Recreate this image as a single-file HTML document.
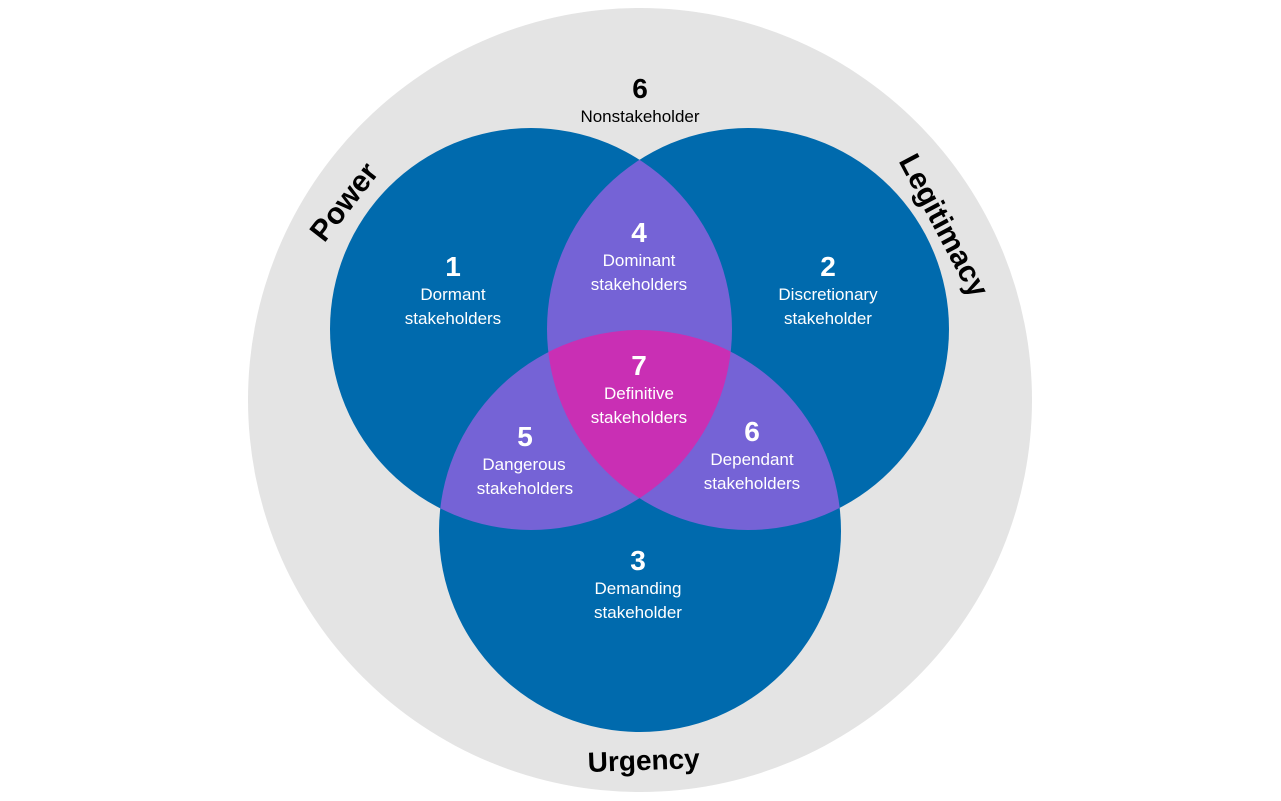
<!DOCTYPE html>
<html><head><meta charset="utf-8"><style>
html,body{margin:0;padding:0;background:#fff;}
svg{display:block;}
text{font-family:"Liberation Sans",sans-serif;}
</style></head><body>
<svg width="1281" height="801" viewBox="0 0 1281 801" xmlns="http://www.w3.org/2000/svg">
<defs>
<clipPath id="cL"><circle cx="531" cy="329" r="201"/></clipPath>
<clipPath id="cR"><circle cx="748" cy="329" r="201"/></clipPath>
<clipPath id="cB"><circle cx="640" cy="531" r="201"/></clipPath>
</defs>
<circle cx="640" cy="400" r="392" fill="#e4e4e4"/>
<circle cx="531" cy="329" r="201" fill="#006aad"/>
<circle cx="748" cy="329" r="201" fill="#006aad"/>
<circle cx="640" cy="531" r="201" fill="#006aad"/>
<g fill="#7563d6">
<circle cx="748" cy="329" r="201" clip-path="url(#cL)"/>
<circle cx="640" cy="531" r="201" clip-path="url(#cL)"/>
<circle cx="640" cy="531" r="201" clip-path="url(#cR)"/>
</g>
<g clip-path="url(#cL)"><circle cx="640" cy="531" r="201" fill="#c92fb4" clip-path="url(#cR)"/></g>
<g fill="#fff" text-anchor="middle">
<text x="453" y="276" font-size="28" font-weight="bold">1</text>
<text x="453" y="300" font-size="17">Dormant</text>
<text x="453" y="324" font-size="17">stakeholders</text>
<text x="828" y="276" font-size="28" font-weight="bold">2</text>
<text x="828" y="300" font-size="17">Discretionary</text>
<text x="828" y="324" font-size="17">stakeholder</text>
<text x="639" y="242" font-size="28" font-weight="bold">4</text>
<text x="639" y="266" font-size="17">Dominant</text>
<text x="639" y="290" font-size="17">stakeholders</text>
<text x="639" y="375" font-size="28" font-weight="bold">7</text>
<text x="639" y="399" font-size="17">Definitive</text>
<text x="639" y="423" font-size="17">stakeholders</text>
<text x="525" y="446" font-size="28" font-weight="bold">5</text>
<text x="524" y="470" font-size="17">Dangerous</text>
<text x="525" y="494" font-size="17">stakeholders</text>
<text x="752" y="441" font-size="28" font-weight="bold">6</text>
<text x="752" y="465" font-size="17">Dependant</text>
<text x="752" y="489" font-size="17">stakeholders</text>
<text x="638" y="570" font-size="28" font-weight="bold">3</text>
<text x="638" y="594" font-size="17">Demanding</text>
<text x="638" y="618" font-size="17">stakeholder</text>
</g>
<g fill="#000" text-anchor="middle">
<text x="640" y="98" font-size="28" font-weight="bold">6</text>
<text x="640" y="122" font-size="17">Nonstakeholder</text>
<text x="0" y="0" font-size="30" font-weight="bold" transform="translate(352,208) rotate(-52)">Power</text>
<text x="0" y="0" font-size="30" font-weight="bold" transform="translate(935,230) rotate(62)">Legitimacy</text>
<text x="0" y="0" font-size="28" font-weight="bold" transform="translate(644,770) rotate(-2)">Urgency</text>
</g>
</svg>
</body></html>
